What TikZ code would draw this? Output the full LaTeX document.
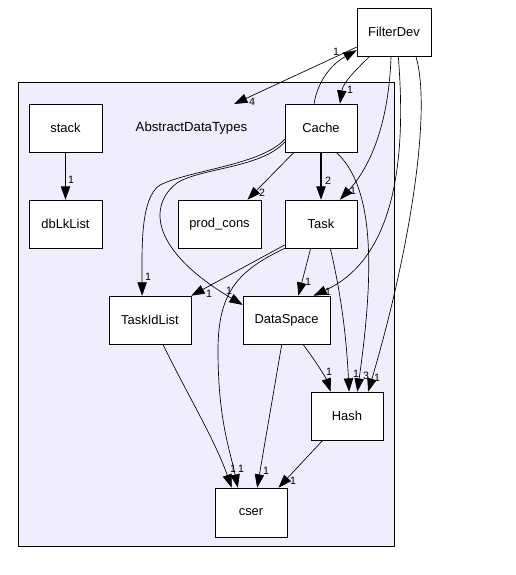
\documentclass[tikz,border=0pt]{standalone}
\usepackage{fontspec}
\setmainfont{Liberation Sans}
\usetikzlibrary{arrows.meta}
\definecolor{clusterfill}{RGB}{238,238,255}

\tikzset{
  dirbox/.style={draw, fill=white, minimum height=36pt, inner sep=0pt, font=\fontsize{9.7}{11}\selectfont},
  dep/.style={-{Triangle[length=10pt,width=7pt]}, line width=0.5pt},
  deplbl/.style={inner sep=0pt, font=\fontsize{8}{9}\selectfont},
}

\begin{document}
\begin{tikzpicture}[x=0.75pt,y=0.75pt,yscale=-1,xscale=1]
\useasboundingbox (0,0) rectangle (516,575);

%Cluster
\draw [fill=clusterfill] (18,82) rectangle (394,546);
\node [inner sep=0pt, font=\fontsize{9.9}{11}\selectfont] (adtname) at (191.5,128) {AbstractDataTypes};
\coordinate (adt) at (234,104);

%Boxes
\node [dirbox, minimum width=55.5pt] (filterdev) at (394,32) {FilterDev};
\node [dirbox, minimum width=54pt] (cache) at (321,128) {Cache};
\node [dirbox, minimum width=54.75pt] (stack) at (65.5,128) {stack};
\node [dirbox, minimum width=54.75pt] (dblklist) at (65.5,224) {dbLkList};
\node [dirbox, minimum width=62.25pt] (prodcons) at (219.5,224) {prod\_cons};
\node [dirbox, minimum width=54pt] (task) at (321,224) {Task};
\node [dirbox, minimum width=61.5pt] (taskidlist) at (150,320) {TaskIdList};
\node [dirbox, minimum width=65.25pt] (dataspace) at (286.5,320) {DataSpace};
\node [dirbox, minimum width=54pt] (hash) at (347,416) {Hash};
\node [dirbox, minimum width=54pt, minimum height=36.75pt] (cser) at (251,512.5) {cser};

%Straight Lines
\draw [dep] (filterdev.202) -- (adt);
\draw [dep, line width=0.7pt] (stack.south) -- (dblklist.north);
\draw [dep, line width=0.8pt] (cache.south) -- (task.north);
\draw [dep] (cache.222) -- (prodcons.41);
\draw [dep] (task.247) -- (dataspace.64);
\draw [dep] (task.210) -- (taskidlist.north east);
\draw [dep] (dataspace.259) -- (cser.76);
\draw [dep] (hash.225) -- (cser.42);
\draw [dep] (dataspace.304) .. controls (315,360) and (326,378) .. (hash.124);
\draw [dep] (taskidlist.298) .. controls (185,390) and (215,440) .. (cser.128);

%Curve Lines
\draw [dep] (cache.106) .. controls (318,80) and (332,64) .. (filterdev.206);
\draw [dep] (filterdev.225) .. controls (358,68) and (343,82) .. (cache.52);
\draw [dep] (filterdev.263) .. controls (389,120) and (372,165) .. (task.52);
\draw [dep] (filterdev.280) .. controls (405,140) and (402,255) .. (dataspace.42);
\draw [dep] (filterdev.312) .. controls (432,110) and (410,250) .. (hash.49);
\draw [dep] (cache.197) .. controls (262,165) and (190,170) .. (160,185) .. controls (140,198) and (142,250) .. (taskidlist.108);
\draw [dep] (cache.201) .. controls (262,168) and (200,168) .. (177,183) .. controls (148,205) and (150,250) .. (dataspace.161);
\draw [dep] (cache.302) .. controls (372,185) and (376,260) .. (hash.67);
\draw [dep] (task.291) .. controls (340,290) and (346,330) .. (hash.85);
\draw [dep] (task.south west) .. controls (240,270) and (218,290) .. (218,350) .. controls (218,420) and (230,450) .. (cser.118);

% Text Node
\node [deplbl] (l1) at (252,102) {4};
\node [deplbl] (l2) at (336,52) {1};
\node [deplbl] (l3) at (350,90) {1};
\node [deplbl] (l4) at (353,191) {1};
\node [deplbl] (l5) at (328,292) {1};
\node [deplbl] (l6) at (377,378) {1};
\node [deplbl] (l7) at (328,181) {2};
\node [deplbl] (l8) at (262,193) {2};
\node [deplbl] (l9) at (148,277) {1};
\node [deplbl] (l10) at (229,291) {1};
\node [deplbl] (l11) at (366,376) {3};
\node [deplbl] (l12) at (308,282) {1};
\node [deplbl] (l13) at (209,294) {1};
\node [deplbl] (l14) at (241,469) {1};
\node [deplbl] (l15) at (233,469) {1};
\node [deplbl] (l16) at (266,471) {1};
\node [deplbl] (l17) at (293,481) {1};
\node [deplbl] (l18) at (329,372) {1};
\node [deplbl] (l19) at (356,374) {1};
\node [deplbl] (l20) at (71,180) {1};

\end{tikzpicture}
\end{document}
